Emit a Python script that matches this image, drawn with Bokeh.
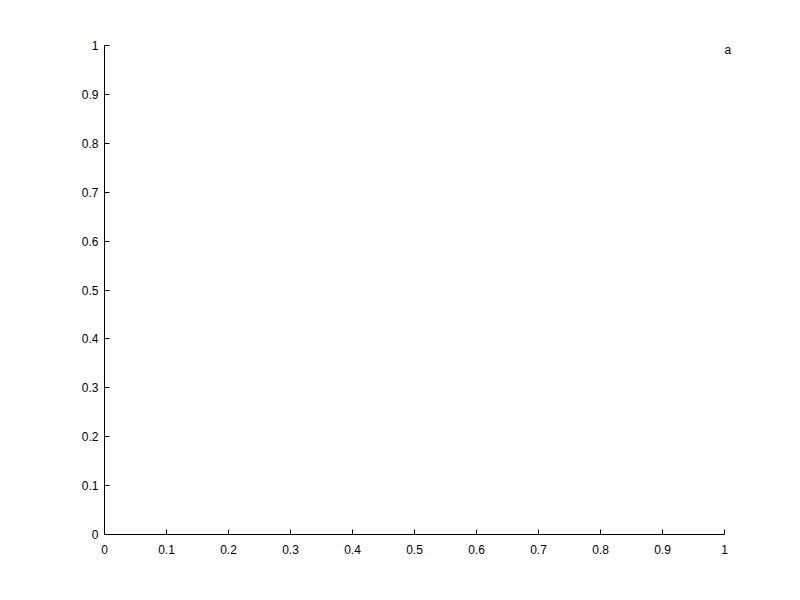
from bokeh.plotting import figure
from bokeh.models import Range1d, FixedTicker, CustomJSTickFormatter, ColumnDataSource
from bokeh.core.properties import value
from bokeh.embed import file_html
from bokeh.resources import INLINE

x_ticks = [0, 0.1, 0.2, 0.3, 0.4, 0.5, 0.6, 0.7, 0.8, 0.9, 1]
y_ticks = [0, 0.1, 0.2, 0.3, 0.4, 0.5, 0.6, 0.7, 0.8, 0.9, 1]
label_text = ["a"]
label_x = [1.0]
label_y = [0.99]

FONT = "Liberation Sans"

# frame is 636 px wide; the axis (0..1) spans the first 620 px, the rest leaves room for the label
x_end = 636 / 620

p = figure(width=784, height=584, output_backend="svg", toolbar_location=None,
           x_range=Range1d(0, x_end), y_range=Range1d(0, 1),
           min_border_left=104, min_border_right=44, min_border_top=45, min_border_bottom=50)
p.outline_line_color = None
p.xgrid.visible = False
p.ygrid.visible = False
p.background_fill_color = "white"
p.border_fill_color = "white"

fmt = "return String(Math.round(tick*10)/10);"
for ax, ticks, standoff in ((p.xaxis[0], x_ticks, 10), (p.yaxis[0], y_ticks, 6)):
    ax.ticker = FixedTicker(ticks=ticks)
    ax.formatter = CustomJSTickFormatter(code=fmt)
    ax.bounds = (0, 1)
    ax.major_tick_in = 5
    ax.major_tick_out = 0
    ax.minor_tick_line_color = None
    ax.axis_line_color = "black"
    ax.major_tick_line_color = "black"
    ax.major_label_text_font = FONT
    ax.major_label_text_font_size = "12px"
    ax.major_label_text_color = "black"
    ax.major_label_standoff = standoff

src = ColumnDataSource(dict(x=label_x, y=label_y, t=label_text))
p.text(x="x", y="y", text="t", source=src, text_font=value(FONT), text_font_size="12px",
       text_align="left", text_baseline="middle", text_color="black")

open("out.html", "w").write(file_html(p, INLINE))
